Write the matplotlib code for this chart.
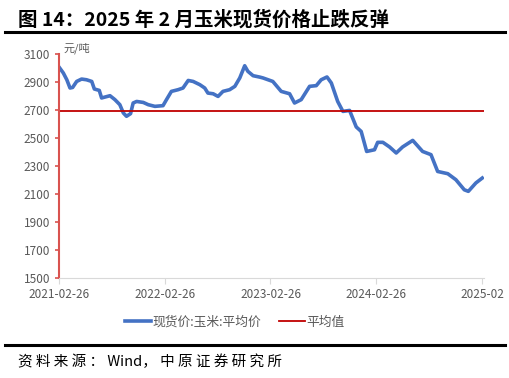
import numpy as np
import pandas as pd
import matplotlib.pyplot as plt
from matplotlib.lines import Line2D

plt.rcParams['font.family'] = ['Noto Sans CJK SC', 'DejaVu Sans']

# corn spot price, yuan/ton
dates = ['2021-02-26', '2021-03-13', '2021-03-25', '2021-04-05', '2021-04-14', '2021-04-28',
         '2021-05-15', '2021-06-01', '2021-06-19', '2021-06-28', '2021-07-15', '2021-07-23',
         '2021-08-21', '2021-09-07', '2021-09-24', '2021-10-06', '2021-10-17', '2021-10-31',
         '2021-11-09', '2021-11-21', '2021-12-14', '2021-12-31', '2022-01-23', '2022-02-20',
         '2022-03-04', '2022-03-21', '2022-04-13', '2022-04-30', '2022-05-18', '2022-06-04',
         '2022-06-27', '2022-07-14', '2022-07-25', '2022-08-12', '2022-08-29', '2022-09-15',
         '2022-10-08', '2022-10-26', '2022-11-12', '2022-11-29', '2022-12-10', '2022-12-28',
         '2023-01-20', '2023-01-31', '2023-03-06', '2023-04-04', '2023-05-03', '2023-05-20',
         '2023-06-12', '2023-07-11', '2023-08-03', '2023-08-20', '2023-09-09', '2023-09-24',
         '2023-10-16', '2023-11-03', '2023-11-26', '2023-12-19', '2024-01-05', '2024-01-24',
         '2024-02-20', '2024-03-02', '2024-03-20', '2024-04-12', '2024-05-05', '2024-05-27',
         '2024-07-01', '2024-08-04', '2024-09-02', '2024-09-25', '2024-10-30', '2024-11-27',
         '2024-12-26', '2025-01-09', '2025-02-04', '2025-02-26']
price = [3007, 2964, 2916, 2857, 2861, 2904,
         2921, 2916, 2904, 2850, 2840, 2786,
         2802, 2774, 2738, 2679, 2655, 2674,
         2750, 2761, 2754, 2738, 2726, 2731,
         2774, 2833, 2845, 2857, 2911, 2904,
         2881, 2857, 2821, 2816, 2797, 2833,
         2845, 2869, 2929, 3016, 2976, 2945,
         2935, 2929, 2904, 2833, 2816, 2750,
         2774, 2869, 2874, 2916, 2936, 2893,
         2761, 2690, 2697, 2579, 2547, 2404,
         2416, 2469, 2469, 2436, 2393, 2436,
         2483, 2404, 2381, 2261, 2245, 2202,
         2130, 2119, 2179, 2214]
avg_value = 2692
tick_dates = ['2021-02-26', '2022-02-26', '2023-02-26', '2024-02-26', '2025-02-26']
tick_labels = ['2021-02-26', '2022-02-26', '2023-02-26', '2024-02-26', '2025-02']

d = pd.to_datetime(dates)

fig = plt.figure(figsize=(5.1, 3.78), dpi=100)
ax = fig.add_axes([59/510, 1-278/378, (484-59)/510, (278-54)/378])

blue = '#4472c4'
red = '#c00000'
gray = '#595959'

ax.plot(d, price, color=blue, lw=2.6, solid_joinstyle='round')
ax.axhline(avg_value, color=red, lw=1.3)

ax.set_ylim(1500, 3100)
ax.set_yticks(np.arange(1500, 3101, 200))
ax.set_xlim(pd.Timestamp('2021-02-26'), pd.Timestamp('2025-03-04'))
ax.set_xticks(pd.to_datetime(tick_dates))
ax.set_xticklabels(tick_labels)

for s in ['top', 'right']:
    ax.spines[s].set_visible(False)
ax.spines['left'].set_color('#d9534f')
ax.spines['left'].set_linewidth(1.5)
ax.spines['bottom'].set_color('#d9d9d9')
ax.tick_params(axis='y', colors='#d9534f', labelcolor=gray, labelsize=8.5, length=3, width=1.2)
ax.tick_params(axis='x', colors='#d9d9d9', labelcolor=gray, labelsize=8.5, length=4, pad=3)

ax.text(0.01, 1.0, '元/吨', transform=ax.transAxes, fontsize=8, color=gray, va='bottom', ha='left')

fig.text(18/510, 1-20/378, '图 14：2025 年 2 月玉米现货价格止跌反弹', fontsize=14, fontweight='bold',
         va='center', ha='left')
fig.add_artist(Line2D([5/510, 505/510], [1-32/378, 1-32/378], color='black', lw=2.2))

handles = [Line2D([], [], color=blue, lw=2.6), Line2D([], [], color=red, lw=1.3)]
fig.legend(handles, ['现货价:玉米:平均价', '平均值'], loc='center', bbox_to_anchor=(235/510, 1-322/378),
           ncol=2, frameon=False, fontsize=9.2, labelcolor=gray, handlelength=2.0, handletextpad=0.15,
           columnspacing=1.4)

fig.add_artist(Line2D([5/510, 505/510], [1-345/378, 1-345/378], color='black', lw=2.2))
fig.text(18/510, 1-362/378, '资 料 来 源 ： Wind， 中 原 证 券 研 究 所', fontsize=10.5,
         va='center', ha='left')

fig.savefig('out.png', dpi=100)
